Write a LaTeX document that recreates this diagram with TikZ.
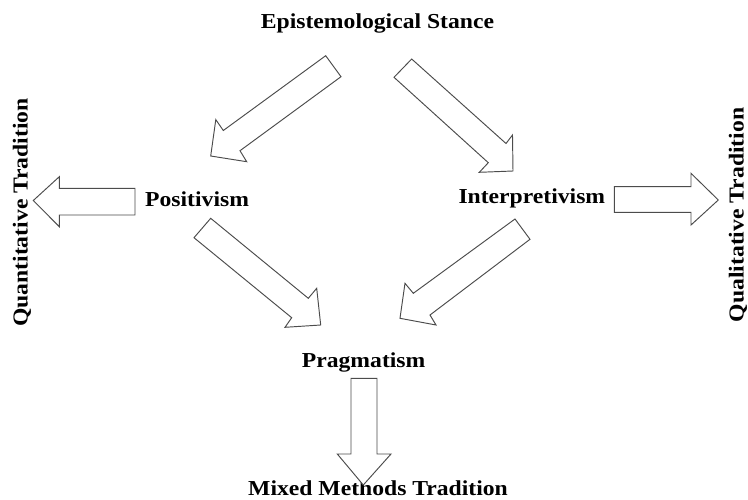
\documentclass[tikz,border=0pt]{standalone}
\usepackage{fontspec}
\setmainfont{Liberation Serif}[FakeStretch=1.11]
\begin{document}
\begin{tikzpicture}[x=1pt,y=-1pt,
  label/.style={font=\fontsize{21.3}{25}\selectfont\bfseries, inner sep=0pt, text=black},
  blockarrow/.style={draw=black!70, fill=white, line width=0.95pt, line join=miter}]
\useasboundingbox (0,0) rectangle (748,499);

% Text labels
\node[label, anchor=base]      (epi)   at (377.5,28.5) {Epistemological Stance};
\node[label, anchor=base west] (pos)   at (145,206.7)  {Positivism};
\node[label, anchor=base west] (inter) at (458.3,203.5) {Interpretivism};
\node[label, anchor=base west] (prag)  at (301.7,367.7) {Pragmatism};
\node[label, anchor=base west] (mixed) at (248,495.5)  {Mixed Methods Tradition};
\node[label, anchor=base, rotate=90] (quant) at (27.5,212.5) {Quantitative Tradition};
\node[label, anchor=base, rotate=90] (qual)  at (743.5,215)  {Qualitative Tradition};

% Stance -> Positivism
\draw[blockarrow] (325.7,55.7) -- (223.3,130.5) -- (215.8,119.6) -- (210.7,156)
  -- (246.7,161.7) -- (240,150.7) -- (341,76.7) -- cycle;
% Stance -> Interpretivism
\draw[blockarrow] (411.7,59) -- (506,143.5) -- (512.5,135) -- (513,171)
  -- (479.3,172.3) -- (488.3,162.7) -- (394,77.3) -- cycle;
% Positivism -> Pragmatism
\draw[blockarrow] (210.7,218.3) -- (308.3,298.3) -- (316.7,288.3) -- (320.7,325)
  -- (285,327.3) -- (291.7,317.7) -- (194,237.7) -- cycle;
% Interpretivism -> Pragmatism
\draw[blockarrow] (515,219) -- (413.3,293.3) -- (405,283.3) -- (400,318.3)
  -- (436,325) -- (430,315) -- (530,239.3) -- cycle;
% Positivism -> Quantitative Tradition
\draw[blockarrow] (135,188.3) -- (59.3,188.3) -- (59.3,176.7) -- (33.3,200.5)
  -- (59.3,226.7) -- (59.3,215) -- (135,215) -- cycle;
% Interpretivism -> Qualitative Tradition
\draw[blockarrow] (614.3,186.7) -- (691,186.7) -- (691,173.3) -- (718.3,200)
  -- (691,225) -- (691,212.3) -- (614.3,212.3) -- cycle;
% Pragmatism -> Mixed Methods Tradition
\draw[blockarrow] (351,378.3) -- (351,454) -- (337.3,454) -- (363.3,485)
  -- (391,454) -- (377,454) -- (377,378.3) -- cycle;
\end{tikzpicture}
\end{document}
